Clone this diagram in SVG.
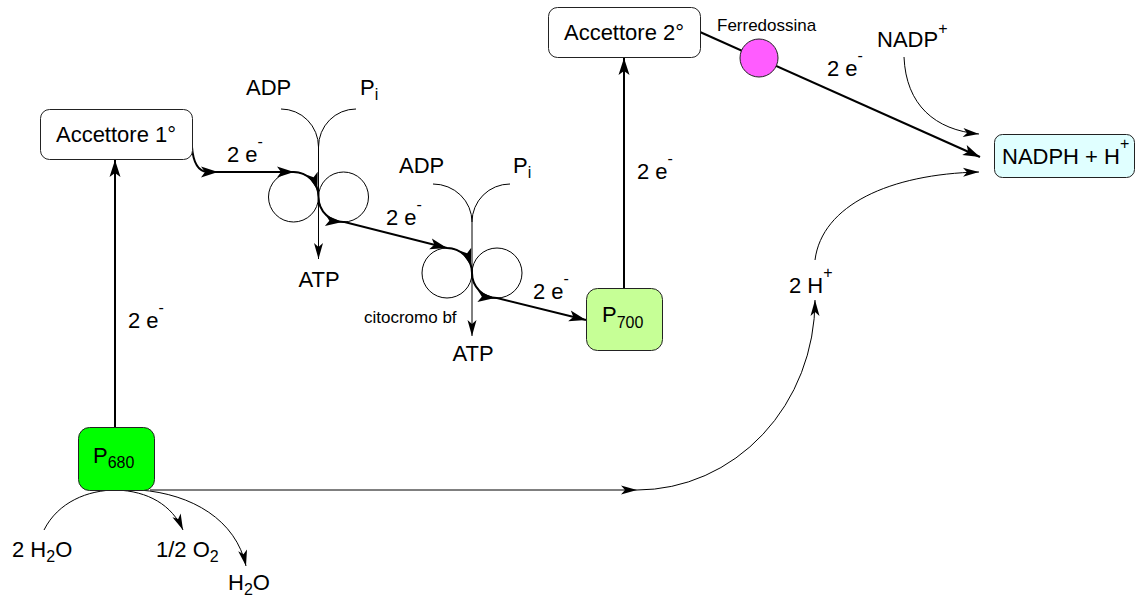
<svg xmlns="http://www.w3.org/2000/svg" xmlns:xlink="http://www.w3.org/1999/xlink" width="1136" height="597" viewBox="0 0 1136 597">
  <style>
    text { font-family: "Liberation Sans", Arial, sans-serif; font-size: 22px; fill: #000; }
    .small { font-size: 17px; }
    .box { stroke: #222; stroke-width: 1; }
    .thick { fill: none; stroke: #000; stroke-width: 2; }
    .thin { fill: none; stroke: #000; stroke-width: 1; }
    .ah { fill: #000; stroke: none; }
  </style>
  <defs>
    <!-- arrowhead shapes, tip at origin pointing +x -->
    <path id="headBig" class="ah" d="M0,0 L-17,-5.5 L-13,0 L-17,5.5 Z"/>
    <path id="headSmall" class="ah" d="M0,0 L-16,-4.5 L-12,0 L-16,4.5 Z"/>
    <marker id="mBig" viewBox="-18 -7 20 14" refX="0" refY="0" markerWidth="20" markerHeight="14" orient="auto" markerUnits="userSpaceOnUse">
      <path class="ah" d="M0,0 L-17,-5.5 L-13,0 L-17,5.5 Z"/>
    </marker>
    <marker id="mSmall" viewBox="-18 -6 20 12" refX="0" refY="0" markerWidth="20" markerHeight="12" orient="auto" markerUnits="userSpaceOnUse">
      <path class="ah" d="M0,0 L-16,-4.5 L-12,0 L-16,4.5 Z"/>
    </marker>
  </defs>

  <!-- connectors -->
  <g id="connectors">
    <!-- P680 -> Accettore 1 -->
    <path class="thick" d="M115,427 L115,160" marker-end="url(#mBig)"/>
    <!-- P700 -> Accettore 2 -->
    <path class="thick" d="M624,288 L624,58" marker-end="url(#mBig)"/>
    <!-- Accettore 2 -> ferredoxin -> NADPH -->
    <path class="thick" d="M700,32 L980,157" marker-end="url(#mBig)"/>

    <!-- electron transport chain through the two complexes to P700 -->
    <path class="thick" d="M192,147 C193,160 197,171 207,172 L293.5,172 A25,25 0 0 1 318.5,197 A25,25 0 0 0 344.5,222 L447,248 A25,25 0 0 1 472,273 A25,25 0 0 0 497,298 L586,320" marker-end="url(#mBig)"/>
    <use xlink:href="#headBig" transform="translate(218,172)"/>
    <use xlink:href="#headBig" transform="translate(294,172)"/>
    <use xlink:href="#headBig" transform="translate(317.4,189.7) rotate(73)"/>
    <use xlink:href="#headBig" transform="translate(342.3,221.9) rotate(5)"/>
    <use xlink:href="#headBig" transform="translate(447,248) rotate(14.2)"/>
    <use xlink:href="#headBig" transform="translate(470.9,265.7) rotate(73)"/>
    <use xlink:href="#headBig" transform="translate(494.8,297.9) rotate(5)"/>

    <!-- ADP + Pi -> ATP, first complex -->
    <path class="thin" d="M281,109 A37.5,38 0 0 1 318.5,147 M356,109 A37.5,38 0 0 0 318.5,147"/>
    <path class="thin" d="M318.5,147 L318.5,259" marker-end="url(#mSmall)"/>
    <!-- ADP + Pi -> ATP, second complex -->
    <path class="thin" d="M433,184 A39,38 0 0 1 472,222 M510,184 A38,38 0 0 0 472,222"/>
    <path class="thin" d="M472,222 L472,336" marker-end="url(#mSmall)"/>

    <!-- protons released by water splitting -->
    <path class="thin" d="M150,490 L637,490" marker-end="url(#mSmall)"/>
    <path class="thin" d="M637,490 A178,190 0 0 0 815,300" marker-end="url(#mSmall)"/>
    <path class="thin" d="M815,260 C822,205 890,174 979,172" marker-end="url(#mSmall)"/>
    <!-- NADP+ -> NADPH -->
    <path class="thin" d="M904,57 C906,105 935,130 979,134" marker-end="url(#mSmall)"/>

    <!-- water splitting -->
    <path class="thin" d="M44,530 C58,502 88,490 116,490"/>
    <path class="thin" d="M116,490 C148,491 172,505 183,530" marker-end="url(#mSmall)"/>
    <path class="thin" d="M140,490 C192,494 236,520 246,566" marker-end="url(#mSmall)"/>
  </g>

  <!-- ATP synthase / cytochrome complexes -->
  <g id="complex1">
    <circle class="thin" cx="293.5" cy="197" r="25"/>
    <circle class="thin" cx="343.5" cy="197" r="25"/>
  </g>
  <g id="complex2">
    <circle class="thin" cx="447" cy="273" r="25"/>
    <circle class="thin" cx="497" cy="273" r="25"/>
  </g>

  <g id="accettore1">
    <rect class="box" x="40.5" y="109.5" width="152" height="50" rx="9" fill="#fff"/>
    <text x="116" y="142" text-anchor="middle">Accettore 1°</text>
  </g>
  <g id="accettore2">
    <rect class="box" x="548.5" y="7.5" width="152" height="50" rx="9" fill="#fff"/>
    <text x="624" y="40" text-anchor="middle">Accettore 2°</text>
  </g>
  <g id="p680">
    <rect class="box" x="78.5" y="427.5" width="76" height="63" rx="11" fill="#00ff00"/>
    <text x="93" y="463">P<tspan font-size="16" dy="5">680</tspan></text>
  </g>
  <g id="p700">
    <rect class="box" x="586.5" y="288.5" width="76" height="62" rx="11" fill="#c6ff96"/>
    <text x="602" y="322">P<tspan font-size="16" dy="6">700</tspan></text>
  </g>
  <g id="nadph">
    <rect class="box" x="994.5" y="134.5" width="140" height="43" rx="8" fill="#e0ffff"/>
    <text x="1002" y="164">NADPH + H<tspan font-size="16" dy="-15">+</tspan></text>
  </g>
  <g id="ferredossina">
    <circle cx="759" cy="58" r="19" fill="#ff5cff" stroke="#222" stroke-width="1"/>
    <text class="small" x="717" y="31">Ferredossina</text>
  </g>

  <!-- labels -->
  <g id="labels">
    <text x="246" y="95">ADP</text>
    <text x="360" y="95">P<tspan font-size="16" dy="5">i</tspan></text>
    <text x="399" y="173">ADP</text>
    <text x="513" y="173">P<tspan font-size="16" dy="5">i</tspan></text>
    <text x="319" y="287" text-anchor="middle">ATP</text>
    <text x="473" y="361" text-anchor="middle">ATP</text>
    <text class="small" x="364" y="323">citocromo bf</text>

    <text x="227" y="162">2 e<tspan font-size="16" dy="-15">-</tspan></text>
    <text x="386" y="225">2 e<tspan font-size="16" dy="-15">-</tspan></text>
    <text x="533" y="299">2 e<tspan font-size="16" dy="-15">-</tspan></text>
    <text x="128" y="328">2 e<tspan font-size="16" dy="-15">-</tspan></text>
    <text x="637" y="179">2 e<tspan font-size="16" dy="-15">-</tspan></text>
    <text x="827" y="76">2 e<tspan font-size="16" dy="-15">-</tspan></text>

    <text x="877" y="47">NADP<tspan font-size="16" dy="-13">+</tspan></text>
    <text x="789" y="293">2 H<tspan font-size="16" dy="-15">+</tspan></text>

    <text x="12" y="557">2 H<tspan font-size="16" dy="5">2</tspan><tspan dy="-5">O</tspan></text>
    <text x="156" y="557">1/2 O<tspan font-size="16" dy="5">2</tspan></text>
    <text x="228" y="590">H<tspan font-size="16" dy="5">2</tspan><tspan dy="-5">O</tspan></text>
  </g>
</svg>
